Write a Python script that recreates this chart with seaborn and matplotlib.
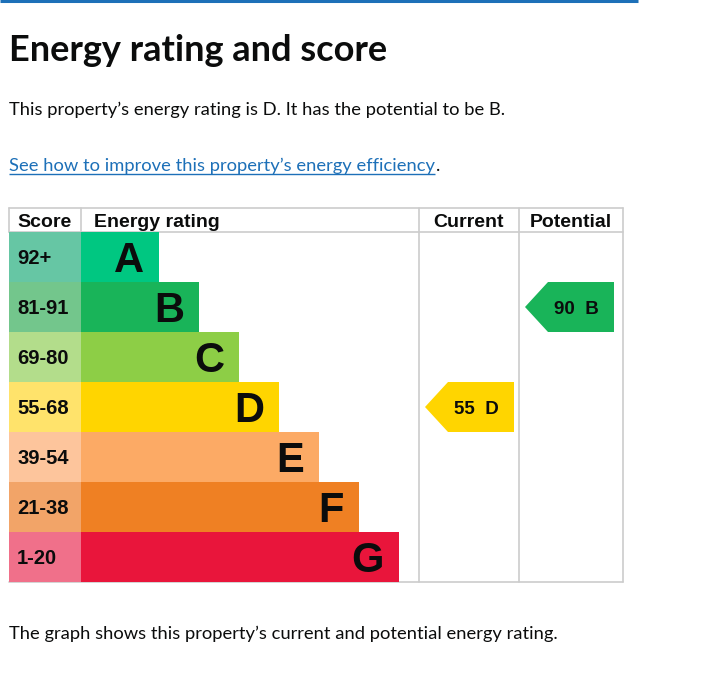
import matplotlib
matplotlib.use("Agg")
import matplotlib.pyplot as plt
from matplotlib.patches import Polygon
import seaborn as sns

# ---- data ----
ratings = ["A", "B", "C", "D", "E", "F", "G"]
score_ranges = ["92+", "81-91", "69-80", "55-68", "39-54", "21-38", "1-20"]
bar_lengths = [78, 118, 158, 198, 238, 278, 318]
bar_colors = ["#00c781", "#19b459", "#8dce46", "#ffd500", "#fcaa65", "#ef8023", "#e9153b"]
score_colors = ["#66c6a4", "#73c68c", "#b3dd8b", "#ffe36b", "#fdc59c", "#f2a468", "#f0708a"]
current_score, current_rating = 55, "D"
potential_score, potential_rating = 90, "B"
headers = ["Score", "Energy rating", "Current", "Potential"]

title = "Energy rating and score"
intro = "This property\u2019s energy rating is D. It has the potential to be B."
link_text = "See how to improve this property\u2019s energy efficiency"
footer = "The graph shows this property\u2019s current and potential energy rating."

sns.set_style("white")
plt.rcParams["font.family"] = ["Lato", "DejaVu Sans"]

W, H = 721, 673
fig = plt.figure(figsize=(W / 100, H / 100), dpi=100)
bg = fig.add_axes([0, 0, 1, 1])
bg.set_xlim(0, W)
bg.set_ylim(H, 0)
bg.axis("off")

ink = "#0b0c0c"
link = "#1d70b8"
grid = "#cccccc"
gds = ["Lato", "DejaVu Sans"]
arial = ["Liberation Sans", "DejaVu Sans"]
body_fs = 13.2

# top rule
bg.plot([0, 638], [1, 1], color=link, lw=2.2, solid_capstyle="butt")

bg.text(9, 61, title, fontsize=26, fontweight="bold", color=ink, family=gds)
bg.text(9, 115, intro, fontsize=body_fs, color=ink, family=gds)
lt = bg.text(9, 171, link_text, fontsize=body_fs, color=link, family=gds)
fig.canvas.draw()
bb = lt.get_window_extent()
x0, x1 = bb.x0, bb.x1
bg.plot([x0, x1], [174, 174], color=link, lw=1.0, solid_capstyle="butt")
bg.text(x1 + 0.5, 171, ".", fontsize=body_fs, color=ink, family=gds)
bg.text(9, 639, footer, fontsize=body_fs, color=ink, family=gds)

# table geometry (pixels)
tl, tr = 9, 623
top, head_bot, bot = 208, 232, 582
score_r = 81
cur_l, pot_l = 419, 519

# header texts
bg.text(17, 227, headers[0], fontsize=14, fontweight="bold", color=ink, family=arial)
bg.text(94, 227, headers[1], fontsize=14, fontweight="bold", color=ink, family=arial)
bg.text((cur_l + pot_l) / 2, 227, headers[2], fontsize=14, fontweight="bold", color=ink,
        family=arial, ha="center")
bg.text((pot_l + tr) / 2, 227, headers[3], fontsize=14, fontweight="bold", color=ink,
        family=arial, ha="center")

# grid lines
lw = 1.2
bg.plot([tl, tr], [top, top], color=grid, lw=lw)
bg.plot([tl, tr], [head_bot, head_bot], color=grid, lw=lw)
bg.plot([tl, tl], [top, head_bot], color=grid, lw=lw)
bg.plot([score_r, score_r], [top, head_bot], color=grid, lw=lw)
for xv in (cur_l, pot_l, tr):
    bg.plot([xv, xv], [top, bot], color=grid, lw=lw)
bg.plot([tl, tr], [bot, bot], color=grid, lw=lw)

# chart axes over the rows
ax = fig.add_axes([tl / W, (H - bot) / H, (tr - tl) / W, (bot - head_bot) / H])
ax.patch.set_alpha(0)
ax.set_zorder(2)
sns.barplot(x=bar_lengths, y=ratings, hue=ratings, order=ratings, hue_order=ratings,
            palette=bar_colors, saturation=1, width=1.0, orient="h", legend=False,
            linewidth=0, ax=ax)
ax.barh(range(len(ratings)), score_r - tl, left=-(score_r - tl), height=1.0,
        color=score_colors, linewidth=0)
ax.set_xlim(-(score_r - tl), tr - score_r)
ax.set_ylim(len(ratings) - 0.5, -0.5)
ax.axis("off")

for i, (r, s, L) in enumerate(zip(ratings, score_ranges, bar_lengths)):
    ax.text(-(score_r - tl) + 8, i + 0.14, s, fontsize=14.5, fontweight="bold",
            color=ink, family=arial, va="baseline")
    ax.text(L - 15, i + 0.3, r, fontsize=30, fontweight="bold", color=ink,
            family=arial, ha="right", va="baseline")

def arrow(col_left, idx, color, label):
    tip = col_left + 6 - score_r
    right = tip + 89
    corner = tip + 23
    poly = Polygon([[tip, idx], [corner, idx - 0.5], [right, idx - 0.5],
                    [right, idx + 0.5], [corner, idx + 0.5]], closed=True,
                   facecolor=color, edgecolor="none")
    ax.add_patch(poly)
    ax.text(right - 38, idx + 0.135, label, fontsize=13.5, fontweight="bold",
            color=ink, family=arial, ha="center", va="baseline")

ci = ratings.index(current_rating)
pi = ratings.index(potential_rating)
arrow(cur_l, ci, bar_colors[ci], f"{current_score}  {current_rating}")
arrow(pot_l, pi, bar_colors[pi], f"{potential_score}  {potential_rating}")

fig.savefig("out.png", dpi=100)
